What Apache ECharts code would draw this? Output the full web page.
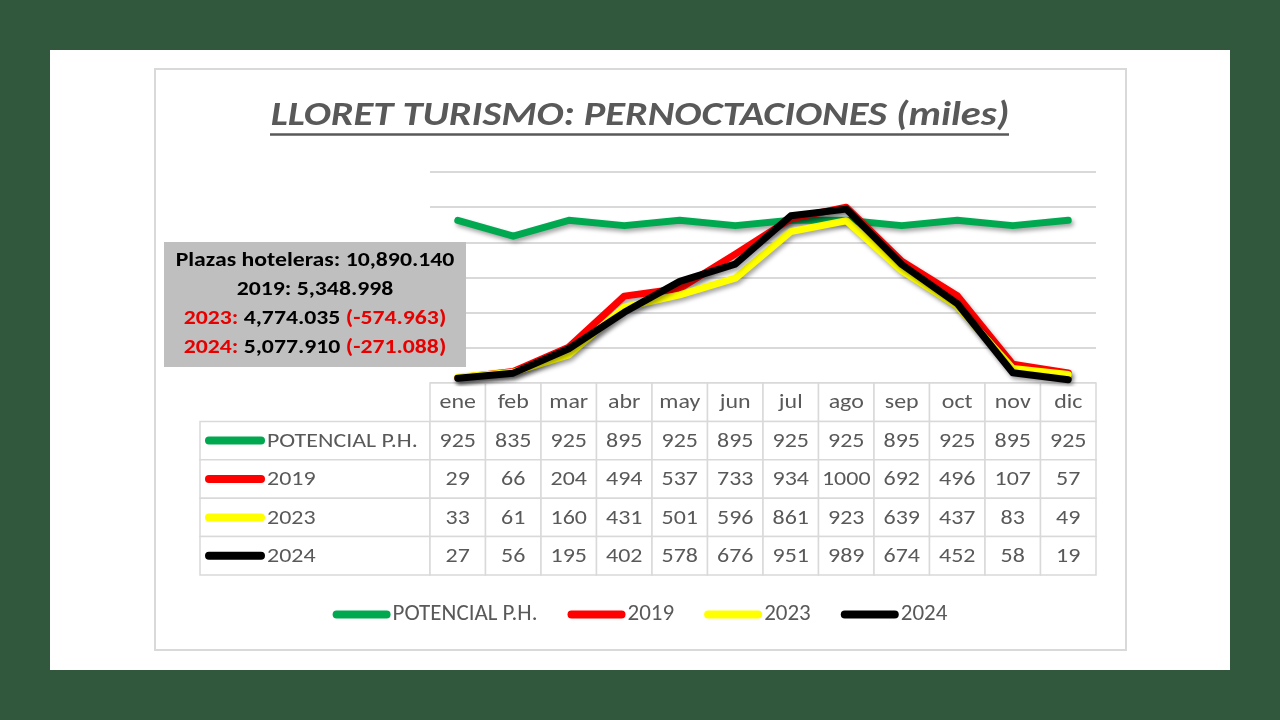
<!DOCTYPE html>
<html>
<head>
<meta charset="utf-8">
<script src="https://cdn.jsdelivr.net/npm/echarts@6/dist/echarts.min.js"></script>
<style>
html,body{margin:0;padding:0;background:#31573c;}
#chart{width:1280px;height:720px;}
</style>
</head>
<body>
<div id="chart"></div>
<script>
// ---- DATA ----
const months = ['ene','feb','mar','abr','may','jun','jul','ago','sep','oct','nov','dic'];
const seriesNames = ['POTENCIAL P.H.','2019','2023','2024'];
const potencial = [925,835,925,895,925,895,925,925,895,925,895,925];
const y2019 = [29,66,204,494,537,733,934,1000,692,496,107,57];
const y2023 = [33,61,160,431,501,596,861,923,639,437,83,49];
const y2024 = [27,56,195,402,578,676,951,989,674,452,58,19];
const yMin = 0, yMax = 1200, yStep = 200;
const titleText = 'LLORET TURISMO: PERNOCTACIONES (miles)';
const noteLines = [
  [{t:'Plazas hoteleras: ', c:'k'},{t:'10,890.140', c:'k'}],
  [{t:'2019: ', c:'k'},{t:'5,348.998', c:'k'}],
  [{t:'2023: ', c:'r'},{t:'4,774.035 ', c:'k'},{t:'(-574.963)', c:'r'}],
  [{t:'2024: ', c:'r'},{t:'5,077.910 ', c:'k'},{t:'(-271.088)', c:'r'}]
];

// ---- STYLE ----
const FONT = 'Carlito, Lato, "Open Sans", sans-serif';
const colors = ['#00a84f','#ff0000','#ffff00','#000000'];
const TXT = '#595959';
const GRIDC = '#d9d9d9';
const LEFT_W = 230;
const SX = 1.14;   // horizontal stretch of the reference text

const allSeries = [potencial, y2019, y2023, y2024];

// table cells built from data
const cells = [];
months.forEach((m,i)=>cells.push({kind:'hdr', col:i, row:0, text:m}));
allSeries.forEach((arr,si)=>{
  cells.push({kind:'name', col:0, row:si+1, text:seriesNames[si], color:colors[si]});
  arr.forEach((v,i)=>cells.push({kind:'val', col:i, row:si+1, text:String(v)}));
});

function renderCell(params, api){
  const c = cells[params.dataIndex];
  const p = api.coord([c.col, c.row]);
  const s = api.size([1,1]);
  let w = s[0], h = s[1];
  let x = p[0]-w/2, y = p[1]-h/2;
  const children = [];
  if (c.kind === 'name'){
    x = x - LEFT_W; w = LEFT_W;
    children.push({type:'rect', shape:{x:x,y:y,width:w,height:h}, style:{fill:'#fff', stroke:GRIDC, lineWidth:1.5}});
    children.push({type:'line', shape:{x1:x+9,y1:p[1],x2:x+61,y2:p[1]}, style:{stroke:c.color, lineWidth:8, lineCap:'round'}});
    children.push({type:'text', x:x+67, y:p[1]+1, scaleX:SX, style:{text:c.text, align:'left', verticalAlign:'middle', fill:TXT, fontSize:21, fontFamily:FONT}});
  } else {
    children.push({type:'rect', shape:{x:x,y:y,width:w,height:h}, style:{fill:'#fff', stroke:GRIDC, lineWidth:1.5}});
    children.push({type:'text', x:p[0], y:p[1]+1, scaleX:SX, style:{text:c.text, align:'center', verticalAlign:'middle', fill:TXT, fontSize:21, fontFamily:FONT}});
  }
  return {type:'group', children:children};
}

function noteText(line, y){
  const rich = {k:{fill:'#000', fontSize:21, fontWeight:'bold', fontFamily:FONT}, r:{fill:'#e60000', fontSize:21, fontWeight:'bold', fontFamily:FONT}};
  const str = line.map(p=>'{'+p.c+'|'+p.t+'}').join('');
  return {type:'text', z:31, x:315, y:y, scaleX:1.13, style:{text:str, rich:rich, align:'center', verticalAlign:'middle', fontFamily:FONT, fontSize:21}};
}

const chart = echarts.init(document.getElementById('chart'), null, {renderer:'canvas'});
const lineSeries = allSeries.map((arr,si)=>({
  name: seriesNames[si], type:'line', data: arr, xAxisIndex:0, yAxisIndex:0,
  symbol:'none', z: 3+si, silent:true,
  itemStyle:{color:colors[si]},
  lineStyle:{width:7, color:colors[si], cap:'round', join:'round',
    shadowColor:'rgba(0,0,0,0.35)', shadowBlur:4, shadowOffsetX:2, shadowOffsetY:3}
}));

chart.setOption({
  backgroundColor:'#31573c',
  animation:false,
  textStyle:{fontFamily:FONT},
  graphic:[
    {type:'rect', shape:{x:50,y:50,width:1180,height:620}, style:{fill:'#fff'}, z:-10},
    {type:'rect', shape:{x:155,y:69,width:971,height:581}, style:{fill:'none', stroke:GRIDC, lineWidth:2}, z:-9},
    {type:'text', x:640, y:116, scaleX:1.155, style:{text:titleText, align:'center', verticalAlign:'middle', fill:TXT, fontSize:35, fontWeight:'bold', fontStyle:'italic', fontFamily:FONT}, z:5},
    {type:'line', shape:{x1:270,y1:134.5,x2:1009,y2:134.5}, style:{stroke:TXT, lineWidth:2.5}, z:5},
    {type:'rect', z:30, shape:{x:164,y:242,width:302,height:125}, style:{fill:'#bfbfbf'}},
    noteText(noteLines[0], 261),
    noteText(noteLines[1], 290),
    noteText(noteLines[2], 319),
    noteText(noteLines[3], 348)
  ],
  legend:{
    data: seriesNames, left:'center', top:598, itemWidth:58, itemHeight:8, itemGap:30,
    icon:'path://M4,0H54A4,4 0 0 1 54,8H4A4,4 0 0 1 4,0Z',
    textStyle:{color:TXT, fontSize:23, fontFamily:FONT, padding:[0,0,0,-3]}
  },
  grid:[
    {left:430, width:666, top:172, height:211},
    {left:430, width:666, top:383, height:192}
  ],
  xAxis:[
    {type:'category', gridIndex:0, data:months, boundaryGap:true,
     axisLine:{show:false}, axisTick:{show:false}, axisLabel:{show:false}, splitLine:{show:false}},
    {type:'category', gridIndex:1, data:months, boundaryGap:true, show:false}
  ],
  yAxis:[
    {type:'value', gridIndex:0, min:yMin, max:yMax, interval:yStep,
     axisLine:{show:false}, axisTick:{show:false}, axisLabel:{show:false},
     splitLine:{show:true, lineStyle:{color:GRIDC, width:2}}},
    {type:'category', gridIndex:1, data:['hdr'].concat(seriesNames), inverse:true, show:false}
  ],
  series: lineSeries.concat([{
    type:'custom', name:'tabla', xAxisIndex:1, yAxisIndex:1, silent:true, z:1,
    renderItem: renderCell, data: cells.map(c=>[c.col,c.row])
  }])
});
</script>
</body>
</html>
